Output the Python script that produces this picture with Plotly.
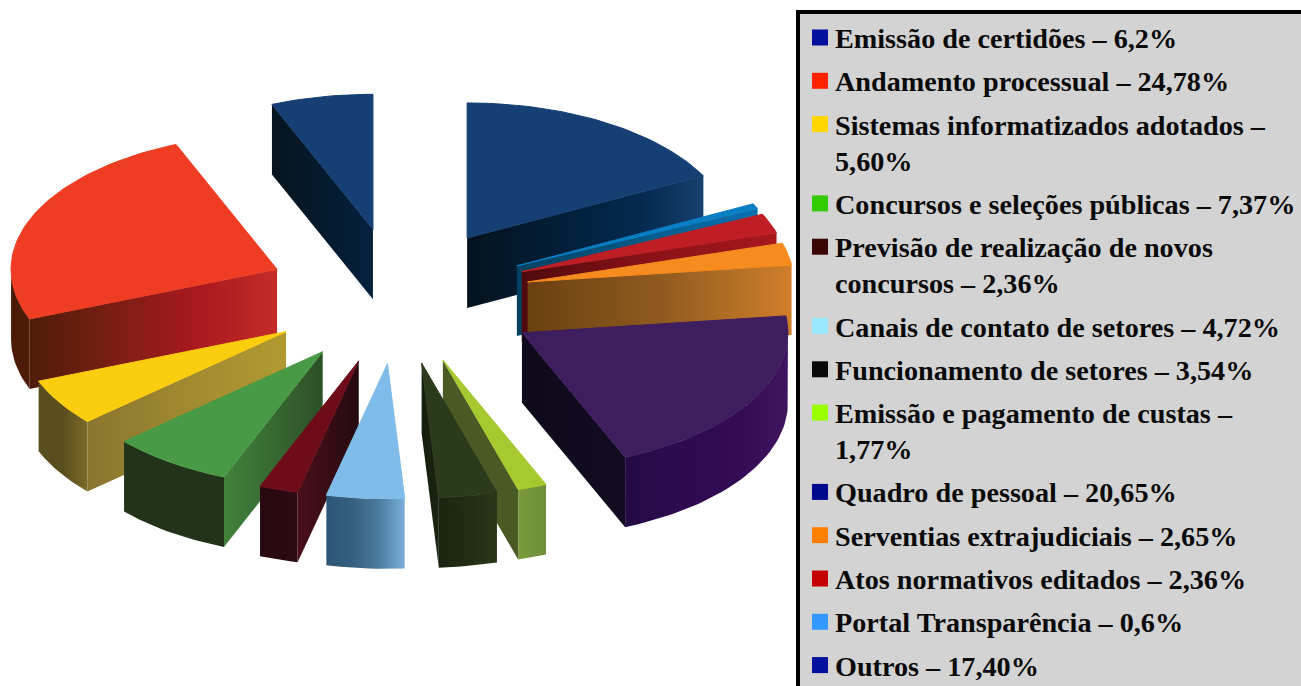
import math
import plotly.graph_objects as go

# Survey results, in counter-clockwise order from twelve o'clock
labels = [
    "Emissão de certidões", "Andamento processual", "Sistemas informatizados adotados",
    "Concursos e seleções públicas", "Previsão de realização de novos concursos",
    "Canais de contato de setores", "Funcionamento de setores",
    "Emissão e pagamento de custas", "Quadro de pessoal", "Serventias extrajudiciais",
    "Atos normativos editados", "Portal Transparência", "Outros",
]
values = [6.2, 24.78, 5.60, 7.37, 2.36, 4.72, 3.54, 1.77, 20.65, 2.65, 2.36, 0.6, 17.40]

# Legend rows: each list is one wrapped entry
legend_rows = [
    ["Emissão de certidões – 6,2%"],
    ["Andamento processual – 24,78%"],
    ["Sistemas informatizados adotados –", "5,60%"],
    ["Concursos e seleções públicas – 7,37%"],
    ["Previsão de realização de novos", "concursos – 2,36%"],
    ["Canais de contato de setores – 4,72%"],
    ["Funcionamento de setores – 3,54%"],
    ["Emissão e pagamento de custas –", "1,77%"],
    ["Quadro de pessoal – 20,65%"],
    ["Serventias extrajudiciais – 2,65%"],
    ["Atos normativos editados – 2,36%"],
    ["Portal Transparência – 0,6%"],
    ["Outros – 17,40%"],
]
swatch_colors = [
    "#000f9c", "#ff2200", "#ffd500", "#33cc00", "#3a0505", "#99e6ff", "#0a0a0a",
    "#99ff00", "#000a8c", "#ff8000", "#c40000", "#3399ff", "#000f9c",
]

top_colors = [
    "#163f73", "#ee3d23", "#fbcd0f", "#499a47", "#6f0c1a", "#80bce9", "#2b3a1a",
    "#a6c92f", "#3f1e60", "#f68c1f", "#bf1e24", "#0a7fc4", "#163f73",
]
# Wall gradients, left to right: radial wall at the slice start, radial wall at its end, rim
start_wall = [
    None, None, None, None, None, None,
    ("#141e0c", "#1a2410"), ("#4a5a25", "#4a5a25"),
    ("#0e0a1a", "#130c22"), ("#6a4010", "#8f5a1f", "#d07f2a"),
    ("#4f0a0e", "#8a1218", "#a8171e"), ("#01415f", "#0a70b0"),
    ("#04121d", "#031a30", "#02223f", "#062a50", "#17406f"),
]
end_wall = [
    ("#07141f", "#02203d"), ("#4f1c08", "#7a1e14", "#a8181f", "#c42c28"),
    ("#8a7530", "#a08a30", "#b09a30"), ("#42823c", "#2d4f27"),
    ("#4a0f1a", "#250a10"), None, None, None, None, None, None, None, None,
]
rim_wall = [
    None, ("#4a1a07", "#4f1c08"), ("#5c4d1f", "#5c4d1f", "#7a6a28"), ("#22331a", "#22331a"),
    ("#280810", "#2e0a12"), ("#2c5578", "#36607f", "#4a7a9e", "#7ab0dc"), ("#1a2410", "#2a3518"),
    ("#7a9a3c", "#6e8e38"), ("#230b45", "#2e0a50", "#340a55", "#3f1560"),
    None, None, None, None,
]
# Radial pull of each slice, relative to the common explosion distance
explode = [1, 1, 1, 1, 1, 1, 1, 1, 1.08, 1, 1, 1, 1]
# Back-to-front painting order
paint_order = [0, 12, 11, 10, 9, 8, 1, 2, 3, 4, 5, 7, 6]

CX, CY = 398.5, 296.0     # pie centre on the page
RX, RY = 266.0, 135.0     # ellipse radii of a slice top
EX, EY = 132.0, 68.0      # explosion distance along each screen axis
DEPTH = 70.0              # extruded thickness


def rim_point(apex, deg):
    a = math.radians(deg)
    return apex[0] - RX * math.sin(a), apex[1] - RY * math.cos(a)


def arc(apex, a0, a1):
    n = max(2, int(abs(a1 - a0) / 1.5) + 1)
    return [rim_point(apex, a0 + (a1 - a0) * i / (n - 1)) for i in range(n)]


def ramp(stops):
    return [[i / (len(stops) - 1), c] for i, c in enumerate(stops)]


def polygon(pts, color=None, stops=None):
    xs = [p[0] for p in pts] + [pts[0][0]]
    ys = [p[1] for p in pts] + [pts[0][1]]
    if color:
        # A hairline in the fill colour closes the seam against neighbouring walls
        kw = dict(fillcolor=color, line=dict(width=1, color=color))
    else:
        kw = dict(fillgradient=dict(type="horizontal", colorscale=ramp(stops)),
                  line=dict(width=0))
    return go.Scatter(x=xs, y=ys, mode="lines", fill="toself",
                      hoverinfo="skip", showlegend=False, **kw)


def dropped(pts):
    return [(x, y + DEPTH) for x, y in pts]


fig = go.Figure()

total = sum(values)
edges = [0.0]
for v in values:
    edges.append(edges[-1] + v / total * 360.0)

for i in paint_order:
    a0, a1 = edges[i], edges[i + 1]
    mid = math.radians((a0 + a1) / 2)
    apex = (CX - EX * explode[i] * math.sin(mid), CY - EY * explode[i] * math.cos(mid))

    if start_wall[i]:
        edge = [apex, rim_point(apex, a0)]
        fig.add_trace(polygon(edge + dropped(edge)[::-1], stops=start_wall[i]))
    if end_wall[i]:
        edge = [apex, rim_point(apex, a1)]
        fig.add_trace(polygon(edge + dropped(edge)[::-1], stops=end_wall[i]))
    if rim_wall[i]:
        seg = arc(apex, max(a0, 90.0), min(a1, 270.0))
        fig.add_trace(polygon(seg + dropped(seg)[::-1], stops=rim_wall[i]))
    fig.add_trace(polygon([apex] + arc(apex, a0, a1), color=top_colors[i]))

# Legend panel: swatches and text placed row by row
swatch_x, swatch_y, text_x, text_y, text_s = [], [], [], [], []
y = 37.5
for row in legend_rows:
    swatch_x.append(820)
    swatch_y.append(y)
    for j, line in enumerate(row):
        text_x.append(835)
        text_y.append(y + 3.5)
        text_s.append(line)
        if j < len(row) - 1:
            y += 36.0
    y += 43.3

fig.add_trace(go.Scatter(
    x=swatch_x, y=swatch_y, mode="markers", hoverinfo="skip", showlegend=False,
    marker=dict(symbol="square", size=16, color=swatch_colors, line=dict(width=0)),
))
fig.add_trace(go.Scatter(
    x=text_x, y=text_y, text=text_s, mode="text", textposition="middle right",
    hoverinfo="skip", showlegend=False,
    textfont=dict(family="Liberation Serif", size=28.2, color="#0a0a0a", weight="bold"),
))

fig.update_layout(
    width=1301, height=686, margin=dict(l=0, r=0, t=0, b=0),
    paper_bgcolor="white", plot_bgcolor="white",
    xaxis=dict(range=[0, 1301], visible=False, fixedrange=True),
    yaxis=dict(range=[686, 0], visible=False, fixedrange=True),
    shapes=[dict(type="rect", xref="x", yref="y", x0=798, y0=12, x1=1320, y1=700,
                 fillcolor="#d3d3d3", line=dict(color="black", width=4), layer="below")],
)

fig.write_html("out.html")
